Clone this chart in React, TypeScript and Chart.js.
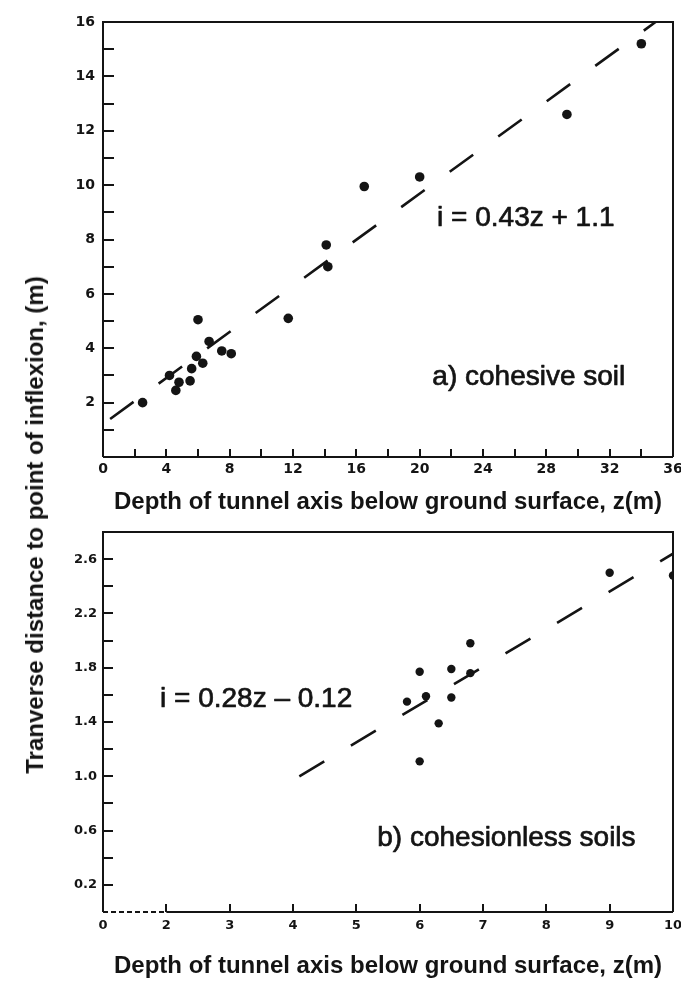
import React, { useEffect, useRef } from "react";
import { Chart, registerables } from "chart.js";

Chart.register(...registerables);

// ---- a) cohesive soil ----
const cohesiveZ = [2.5, 4.2, 4.6, 4.8, 5.5, 5.6, 5.9, 6.0, 6.3, 6.7, 7.5, 8.1, 11.7, 14.1, 14.2, 16.5, 20.0, 29.3, 34.0];
const cohesiveI = [2.0, 3.0, 2.45, 2.75, 2.8, 3.25, 3.7, 5.05, 3.45, 4.25, 3.9, 3.8, 5.1, 7.8, 7.0, 9.95, 10.3, 12.6, 15.2];
const fitAZ = [0.45, 34.9];
const fitAI = [1.4, 16.0];
const xTicksA = { min: 0, max: 36, step: 2 };
const yTicksA = { min: 0, max: 16, step: 1 };

// ---- b) cohesionless soils ----
const cohesionlessZ = [5.8, 6.0, 6.0, 6.1, 6.3, 6.5, 6.5, 6.8, 6.8, 9.0, 10.0];
const cohesionlessI = [1.55, 1.77, 1.11, 1.59, 1.39, 1.79, 1.58, 1.98, 1.76, 2.5, 2.48];
const fitBZ = [4.1, 10.0];
const fitBI = [1.0, 2.64];
const xTicksB = { min: 1, max: 10, step: 1 }; // axis broken: first tick labelled "0"
const yTicksB = { min: 0, max: 2.8, step: 0.2 };

const xTitle = "Depth of tunnel axis below ground surface, z(m)";
const yTitle = "Tranverse distance to point of inflexion, (m)";

const INK = "#141414";
const TITLE_FONT = { family: '"Liberation Sans", Arial, sans-serif', size: 24, weight: "bold" as const };
const NOTE_FONT = '28px "Liberation Sans", Arial, sans-serif';

const toPts = (xs: number[], ys: number[]) => xs.map((x, i) => ({ x, y: ys[i] }));

const framePlugin = {
  id: "frame",
  afterDatasetsDraw(chart: any, _args: any, opts: any) {
    const { ctx, chartArea: a, scales } = chart;
    const x = scales.x;
    const y = scales.y;
    ctx.save();
    ctx.strokeStyle = INK;
    ctx.lineWidth = 2;
    ctx.lineCap = "butt";
    ctx.beginPath();
    ctx.moveTo(a.left, a.bottom);
    ctx.lineTo(a.left, a.top);
    ctx.lineTo(a.right, a.top);
    ctx.lineTo(a.right, a.bottom);
    ctx.stroke();
    const breakPx = opts.brokenTo != null ? x.getPixelForValue(opts.brokenTo) : a.left;
    ctx.beginPath();
    ctx.moveTo(breakPx, a.bottom);
    ctx.lineTo(a.right, a.bottom);
    ctx.stroke();
    if (breakPx > a.left) {
      ctx.setLineDash([5, 3]);
      ctx.beginPath();
      ctx.moveTo(a.left, a.bottom);
      ctx.lineTo(breakPx, a.bottom);
      ctx.stroke();
      ctx.setLineDash([]);
    }
    ctx.lineWidth = 2;
    x.ticks.forEach((t: any) => {
      if (t.value <= x.min + 1e-9 || t.value >= x.max - 1e-9) return;
      if (opts.brokenTo != null && t.value < opts.brokenTo) return;
      const px = Math.round(x.getPixelForValue(t.value));
      ctx.beginPath();
      ctx.moveTo(px, a.bottom);
      ctx.lineTo(px, a.bottom - opts.xTickLen);
      ctx.stroke();
    });
    y.ticks.forEach((t: any) => {
      if (t.value <= y.min + 1e-9 || t.value >= y.max - 1e-9) return;
      const py = Math.round(y.getPixelForValue(t.value));
      ctx.beginPath();
      ctx.moveTo(a.left, py);
      ctx.lineTo(a.left + opts.yTickLen, py);
      ctx.stroke();
    });
    ctx.restore();
  },
};

const notesPlugin = {
  id: "notes",
  afterDatasetsDraw(chart: any, _args: any, opts: any) {
    const { ctx, scales } = chart;
    ctx.save();
    ctx.fillStyle = INK;
    ctx.strokeStyle = INK;
    ctx.lineWidth = 0.7;
    ctx.lineJoin = "round";
    ctx.textAlign = "left";
    ctx.textBaseline = "alphabetic";
    (opts.items || []).forEach((it: any) => {
      ctx.font = it.font || NOTE_FONT;
      const px = scales.x.getPixelForValue(it.x);
      const py = scales.y.getPixelForValue(it.y);
      ctx.fillText(it.text, px, py);
      ctx.strokeText(it.text, px, py);
    });
    ctx.restore();
  },
};

function makeConfig(p: any) {
  return {
    type: "scatter",
    data: {
      datasets: [
        {
          data: p.fit,
          showLine: true,
          borderColor: INK,
          borderWidth: 2.6,
          borderDash: [29, 31],
          pointRadius: 0,
          fill: false,
        },
        {
          data: p.points,
          showLine: false,
          backgroundColor: INK,
          borderColor: INK,
          borderWidth: 0,
          pointRadius: p.radius,
        },
      ],
    },
    options: {
      animation: false,
      responsive: false,
      maintainAspectRatio: false,
      devicePixelRatio: 1,
      events: [],
      layout: { padding: { left: 0, right: 8, top: p.padTop, bottom: 0 } },
      plugins: {
        legend: { display: false },
        tooltip: { enabled: false },
        frame: { brokenTo: p.brokenTo, xTickLen: 8, yTickLen: p.yTickLen },
        notes: { items: p.notes },
      },
      scales: {
        x: {
          type: "linear",
          min: p.xt.min,
          max: p.xt.max,
          grid: { display: false, drawTicks: false },
          border: { display: false },
          ticks: {
            stepSize: p.xt.step,
            autoSkip: false,
            maxRotation: 0,
            padding: p.xPad,
            color: INK,
            font: { family: '"DejaVu Sans", sans-serif', weight: "bold", size: p.tickSize },
            callback: p.xLabel,
          },
          title: {
            display: true,
            text: xTitle,
            color: INK,
            font: TITLE_FONT,
            padding: { top: 0, bottom: p.titlePad },
          },
          afterFit: (s: any) => {
            s.height = p.xAxisH;
            s.paddingLeft = 0;
            s.paddingRight = 0;
          },
        },
        y: {
          type: "linear",
          min: p.yt.min,
          max: p.yt.max,
          grid: { display: false, drawTicks: false },
          border: { display: false },
          ticks: {
            stepSize: p.yt.step,
            autoSkip: false,
            padding: p.yPad,
            color: INK,
            font: { family: '"DejaVu Sans", sans-serif', weight: "bold", size: p.tickSize },
            callback: p.yLabel,
          },
          afterFit: (s: any) => {
            s.width = 103;
            s.paddingTop = 0;
            s.paddingBottom = 0;
          },
        },
      },
    },
    plugins: [framePlugin, notesPlugin],
  };
}

export default function App() {
  const topRef = useRef<HTMLCanvasElement | null>(null);
  const botRef = useRef<HTMLCanvasElement | null>(null);

  useEffect(() => {
    const top = new Chart(
      topRef.current as any,
      makeConfig({
        fit: toPts(fitAZ, fitAI),
        points: toPts(cohesiveZ, cohesiveI),
        radius: 4.8,
        padTop: 22,
        xAxisH: 68,
        titlePad: 8.6,
        xPad: 4,
        yPad: 8,
        yTickLen: 11,
        tickSize: 14,
        brokenTo: null,
        xt: xTicksA,
        yt: yTicksA,
        xLabel: (v: any) => (Math.round(v) % 4 === 0 ? String(Math.round(v)) : ""),
        yLabel: (v: any) => (Math.round(v) % 2 === 0 && Math.round(v) !== 0 ? String(Math.round(v)) : ""),
        notes: [
          { text: "i = 0.43z + 1.1", x: 21.1, y: 8.5 },
          { text: "a) cohesive soil", x: 20.8, y: 2.65 },
        ],
      }) as any
    );
    const bot = new Chart(
      botRef.current as any,
      makeConfig({
        fit: toPts(fitBZ, fitBI),
        points: toPts(cohesionlessZ, cohesionlessI),
        radius: 4.2,
        padTop: 7,
        xAxisH: 70,
        titlePad: 1.6,
        xPad: 6,
        yPad: 6,
        yTickLen: 10,
        tickSize: 13,
        brokenTo: 2,
        xt: xTicksB,
        yt: yTicksB,
        xLabel: (v: any) => (Math.round(v) === 1 ? "0" : String(Math.round(v))),
        yLabel: (v: any) => {
          const k = Math.round(v * 5);
          return k % 2 === 1 ? (k / 5).toFixed(1) : "";
        },
        notes: [
          { text: "i = 0.28z \u2013 0.12", x: 1.9, y: 1.51 },
          { text: "b) cohesionless soils", x: 5.33, y: 0.484 },
        ],
      }) as any
    );
    return () => {
      top.destroy();
      bot.destroy();
    };
  }, []);

  return (
    <div style={{ position: "absolute", left: 0, top: 0, width: 681, height: 982, background: "#fff", overflow: "hidden" }}>
      <canvas ref={topRef} width={681} height={525} style={{ position: "absolute", left: 0, top: 0, display: "block" }} />
      <canvas ref={botRef} width={681} height={457} style={{ position: "absolute", left: 0, top: 525, display: "block" }} />
      <div
        style={{
          position: "absolute",
          left: 35,
          top: 525,
          transform: "translate(-50%, -50%) rotate(-90deg)",
          whiteSpace: "nowrap",
          font: 'bold 24px "Liberation Sans", Arial, sans-serif',
          color: INK,
          lineHeight: 1,
        }}
      >
        {yTitle}
      </div>
    </div>
  );
}
